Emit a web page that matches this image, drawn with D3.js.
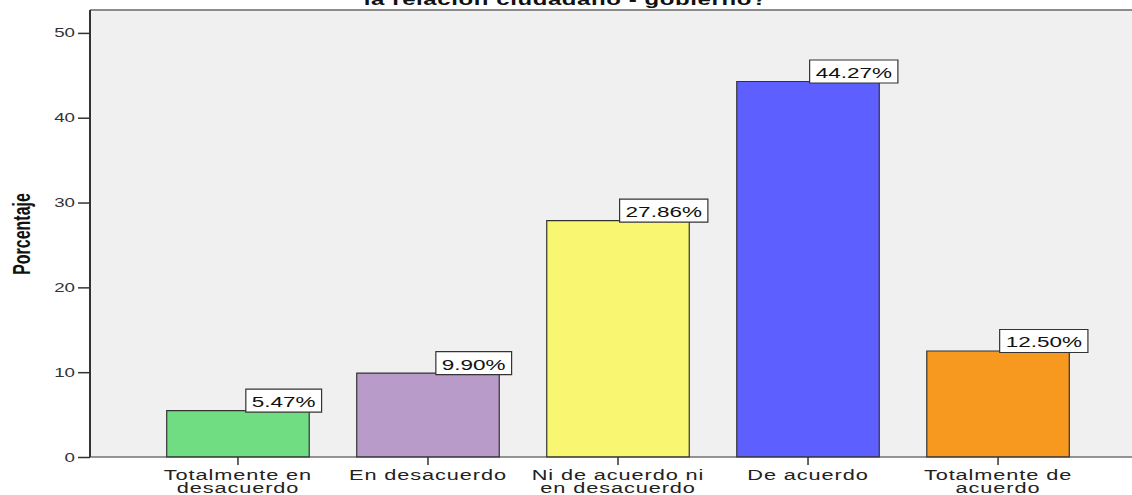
<!DOCTYPE html>
<html>
<head>
<meta charset="utf-8">
<script src="https://cdn.jsdelivr.net/npm/d3@7"></script>
<style>
  body { margin: 0; background: #fff; }
  svg { display: block; }
  text { font-family: "Liberation Sans", Arial, sans-serif; }
</style>
</head>
<body>
<svg id="chart"></svg>
<script>
// data
const categories = ["Totalmente en desacuerdo", "En desacuerdo", "Ni de acuerdo ni en desacuerdo", "De acuerdo", "Totalmente de acuerdo"];
const categoryLines = [["Totalmente en", "desacuerdo"], ["En desacuerdo"], ["Ni de acuerdo ni", "en desacuerdo"], ["De acuerdo"], ["Totalmente de", "acuerdo"]];
const percentages = [5.47, 9.90, 27.86, 44.27, 12.50];
const barColors = ["#70dd82", "#b89bc9", "#f9f672", "#5d60ff", "#f7981f"];
const yTicks = [0, 10, 20, 30, 40, 50];
const yAxisLabel = "Porcentaje";
const title = "la relación ciudadano - gobierno?";

// the original picture is stretched horizontally, so draw narrow and stretch
const outW = 1132, height = 495;
const stretch = 1.5;
const width = outW / stretch;

const svg = d3.select('#chart')
  .attr('width', outW)
  .attr('height', height)
  .attr('viewBox', `0 0 ${width} ${height}`)
  .attr('preserveAspectRatio', 'none');

const plot = { left: 60, right: width, top: 10, bottom: 457 };

const xScale = d3.scaleBand()
  .domain(categories)
  .range([95.3, 728.7])
  .paddingInner(0.25)
  .paddingOuter(0.125);

const yScale = d3.scaleLinear()
  .domain([0, 52.7])
  .range([plot.bottom, plot.top]);

// plot background
svg.append('rect')
  .attr('x', plot.left)
  .attr('y', plot.top)
  .attr('width', plot.right - plot.left)
  .attr('height', plot.bottom - plot.top)
  .attr('fill', '#f0f0f0');

svg.append('line')
  .attr('x1', plot.left).attr('x2', plot.right)
  .attr('y1', plot.top).attr('y2', plot.top)
  .attr('stroke', '#8c8c8c')
  .attr('stroke-width', 2)
  .attr('vector-effect', 'non-scaling-stroke');

// title (its first lines are cut off in the original)
svg.append('text')
  .attr('x', 377)
  .attr('y', 5)
  .attr('text-anchor', 'middle')
  .attr('font-size', 16)
  .attr('font-weight', 'bold')
  .attr('letter-spacing', 0.4)
  .attr('fill', '#111')
  .text(title);

// bars
svg.selectAll('rect.bar')
  .data(categories)
  .join('rect')
  .attr('class', 'bar')
  .attr('x', d => xScale(d))
  .attr('y', (d, i) => yScale(percentages[i]))
  .attr('width', xScale.bandwidth())
  .attr('height', (d, i) => yScale(0) - yScale(percentages[i]))
  .attr('fill', (d, i) => barColors[i])
  .attr('stroke', '#333')
  .attr('stroke-width', 1.2)
  .attr('vector-effect', 'non-scaling-stroke');

// y axis
const yAxis = d3.axisLeft(yScale)
  .tickValues(yTicks)
  .tickSize(8)
  .tickPadding(2)
  .tickFormat(d3.format('d'));

const yAxisGroup = svg.append('g')
  .attr('transform', `translate(${plot.left}, 0)`)
  .call(yAxis);
yAxisGroup.select('.domain').remove();
yAxisGroup.selectAll('line')
  .attr('stroke', '#333')
  .attr('stroke-width', 1.5)
  .attr('vector-effect', 'non-scaling-stroke');
yAxisGroup.selectAll('text')
  .attr('font-size', 12.5)
  .attr('fill', '#333')
  .style('font-family', '"Liberation Sans", Arial, sans-serif');

svg.append('line')
  .attr('x1', plot.left).attr('x2', plot.left)
  .attr('y1', plot.top).attr('y2', plot.bottom)
  .attr('stroke', '#333')
  .attr('stroke-width', 2)
  .attr('vector-effect', 'non-scaling-stroke');

// x axis
const xAxis = d3.axisBottom(xScale)
  .tickSize(8)
  .tickFormat('');
const xAxisGroup = svg.append('g')
  .attr('transform', `translate(0, ${plot.bottom})`)
  .call(xAxis);
xAxisGroup.select('.domain').remove();
xAxisGroup.selectAll('line')
  .attr('stroke', '#333')
  .attr('stroke-width', 1.5)
  .attr('vector-effect', 'non-scaling-stroke');

svg.append('line')
  .attr('x1', plot.left).attr('x2', plot.right)
  .attr('y1', plot.bottom).attr('y2', plot.bottom)
  .attr('stroke', '#333')
  .attr('stroke-width', 1.2)
  .attr('vector-effect', 'non-scaling-stroke');

const catLabels = svg.append('g').selectAll('text')
  .data(categories)
  .join('text')
  .attr('x', d => xScale(d) + xScale.bandwidth() / 2)
  .attr('y', 480)
  .attr('text-anchor', 'middle')
  .attr('font-size', 14.5)
  .attr('letter-spacing', 0.6)
  .attr('fill', '#222');
catLabels.selectAll('tspan')
  .data((d, i) => categoryLines[i])
  .join('tspan')
  .attr('x', function () { return this.parentNode.getAttribute('x'); })
  .attr('dy', (d, j) => j === 0 ? 0 : 13)
  .text(d => d);

// y axis label
svg.append('text')
  .attr('transform', `translate(20, 234) rotate(-90)`)
  .attr('text-anchor', 'middle')
  .attr('font-size', 16)
  .attr('font-weight', 'bold')
  .attr('fill', '#111')
  .text(yAxisLabel);

// value labels in boxes
const valueGroups = svg.append('g').selectAll('g')
  .data(categories)
  .join('g')
  .attr('transform', (d, i) => `translate(${xScale(d) + xScale.bandwidth() / 2 + 30.5}, ${yScale(percentages[i]) + 1.5})`);

valueGroups.each(function (d, i) {
  const g = d3.select(this);
  const rect = g.append('rect');
  const txt = g.append('text')
    .attr('text-anchor', 'middle')
    .attr('y', -5)
    .attr('font-size', 15)
    .attr('fill', '#111')
    .text(percentages[i].toFixed(2) + '%');
  const w = txt.node().getComputedTextLength() + 8;
  rect.attr('x', -w / 2)
    .attr('y', -23)
    .attr('width', w)
    .attr('height', 23)
    .attr('fill', '#fff')
    .attr('stroke', '#333')
    .attr('stroke-width', 1.2)
    .attr('vector-effect', 'non-scaling-stroke');
});
</script>
</body>
</html>
